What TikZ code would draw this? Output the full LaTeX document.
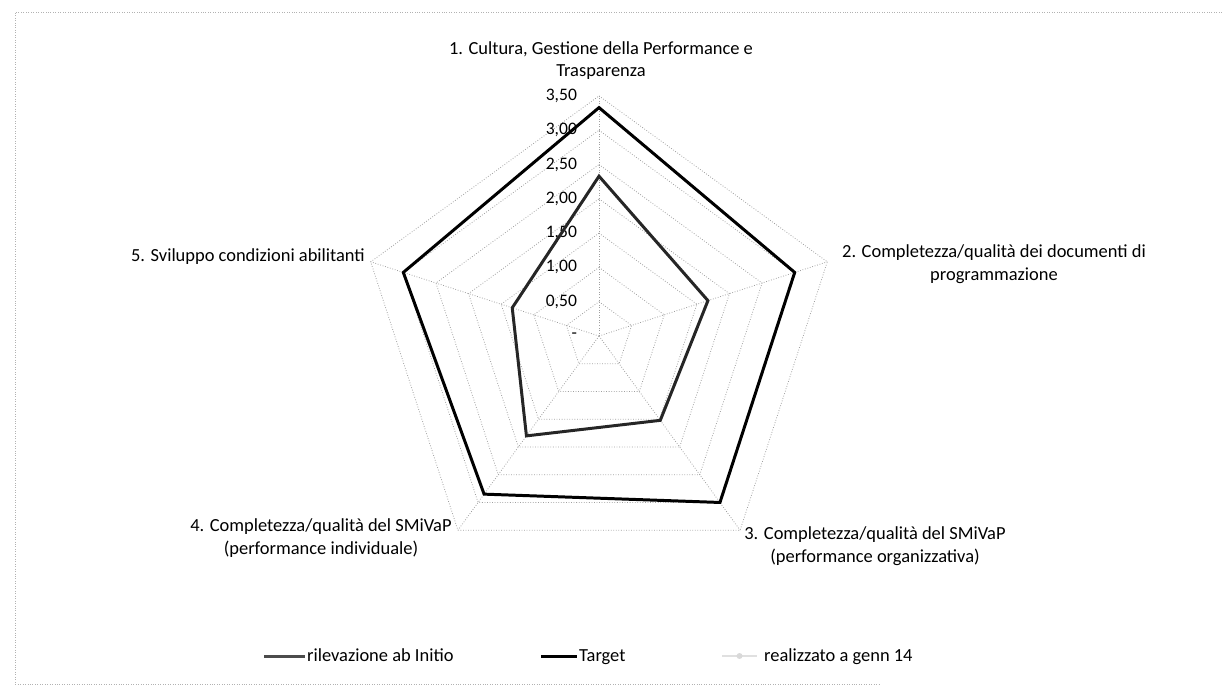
\documentclass[tikz,border=0pt]{standalone}
\usepackage{fontspec}
\setmainfont{Carlito}
\usetikzlibrary{positioning,calc}

\begin{document}
\begin{tikzpicture}[x=0.02cm, y=-0.02cm,
    grid/.style={densely dotted, gray!75, line width=0.45pt},
    catlabel/.style={font=\fontsize{10.5}{13}\selectfont, align=center, inner sep=1pt},
    ticklabel/.style={font=\fontsize{10}{12}\selectfont, anchor=east, inner sep=1pt},
    series/.style={line width=1.7pt, line join=miter},
    legtext/.style={font=\fontsize{10.5}{12}\selectfont, anchor=west, inner sep=1pt, text height=1.6ex, text depth=0.4ex}
]
    \useasboundingbox (0,0) rectangle (1222,692);

    % Frame
    \draw[densely dotted, gray!60] (1222,12) -- (15,12) -- (15,684) -- (880,684);

    % Radar grid and series
    \begin{scope}[shift={(599,336)}, x=1.372cm, y=1.372cm]
        \coordinate (c) at (0,0);
        \foreach \v in {0.5,1,1.5,2,2.5,3,3.5}
            \draw[grid] (90:\v) -- (18:\v) -- (-54:\v) -- (-126:\v) -- (162:\v) -- cycle;
        \foreach \a [count=\i] in {90,18,-54,-126,162} {
            \coordinate (ax\i) at (\a:3.5);
            \draw[grid] (c) -- (ax\i);
        }

        % Scale values
        \foreach \v/\t [count=\i] in {0/-, 0.5/{0,50}, 1/{1,00}, 1.5/{1,50}, 2/{2,00}, 2.5/{2,50}, 3/{3,00}, 3.5/{3,50}}
            \node[ticklabel, xshift=-0.4cm] (tick\i) at (0,\v) {\t};

        % rilevazione ab initio
        \draw[series, black!85] (90:2.33) -- (18:1.67) -- (-54:1.52) -- (-126:1.8) -- (162:1.33) -- cycle;
        % Target
        \draw[series, black] (90:3.33) -- (18:3) -- (-54:3) -- (-126:2.85) -- (162:3) -- cycle;
    \end{scope}

    % Category labels
    \node[catlabel, anchor=south] (cat1) at (601,82) {1. Cultura, Gestione della Performance e\\Trasparenza};
    \node[catlabel] (cat2) at (994,264) {2. Completezza/qualità dei documenti di\\programmazione};
    \node[catlabel] (cat3) at (875,546) {3. Completezza/qualità del SMiVaP\\(performance organizzativa)};
    \node[catlabel] (cat4) at (321,538) {4. Completezza/qualità del SMiVaP\\(performance individuale)};
    \node[catlabel, anchor=east] (cat5) at (367,257) {5. Sviluppo condizioni abilitanti};

    % Legend
    \node[legtext] (leg1) at (305,656) {rilevazione ab Initio};
    \node[legtext] (leg2) at (577,656) {Target};
    \node[legtext] (leg3) at (762,656) {realizzato a genn 14};
    \draw[series, black!70] ([xshift=-0.82cm]leg1.west) -- (leg1.west);
    \draw[series, black] ([xshift=-0.72cm]leg2.west) -- (leg2.west);
    \draw[line width=1.2pt, black!12] ([xshift=-0.8cm]leg3.west) -- ([xshift=-0.1cm]leg3.west);
    \node[circle, fill=black!15, inner sep=1.2pt] (mk3) at ([xshift=-0.45cm]leg3.west) {};
\end{tikzpicture}
\end{document}
